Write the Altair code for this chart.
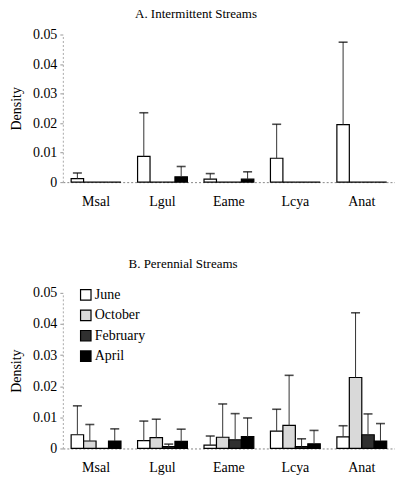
import altair as alt
import pandas as pd

categories = ["Msal", "Lgul", "Eame", "Lcya", "Anat"]
months = ["June", "October", "February", "April"]
month_colors = ["#ffffff", "#d9d9d9", "#303030", "#000000"]

# Panel A: Intermittent streams (mean, mean + error)
a_june = [0.0012, 0.0087, 0.0010, 0.0081, 0.0195]
a_june_err = [0.0031, 0.0235, 0.0029, 0.0196, 0.0474]
a_oct = [0.0, 0.0, 0.0, 0.0, 0.0]
a_oct_err = [None, None, None, None, None]
a_feb = [0.0, 0.0, 0.0, 0.0, 0.0]
a_feb_err = [None, None, None, None, None]
a_apr = [0.0, 0.0018, 0.0010, 0.0, 0.0]
a_apr_err = [None, 0.0053, 0.0035, None, None]

# Panel B: Perennial streams
b_june = [0.0044, 0.0025, 0.0011, 0.0056, 0.0037]
b_june_err = [0.0137, 0.0088, 0.0040, 0.0126, 0.0073]
b_oct = [0.0024, 0.0035, 0.0036, 0.0074, 0.0228]
b_oct_err = [0.0077, 0.0094, 0.0143, 0.0235, 0.0436]
b_feb = [0.0, 0.0006, 0.0028, 0.0006, 0.0044]
b_feb_err = [None, 0.0014, 0.0112, 0.0031, 0.0111]
b_apr = [0.0024, 0.0023, 0.0038, 0.0015, 0.0024]
b_apr_err = [0.0063, 0.0062, 0.0098, 0.0058, 0.0080]
y_ticks = [0, 0.01, 0.02, 0.03, 0.04, 0.05]

FONT = "Liberation Serif"


def make_df(series, errs):
    rows = []
    for m, vals, ers in zip(months, series, errs):
        for c, v, e in zip(categories, vals, ers):
            rows.append({"cat": c, "month": m, "val": v, "err": e})
    return pd.DataFrame(rows)


dfA = make_df([a_june, a_oct, a_feb, a_apr], [a_june_err, a_oct_err, a_feb_err, a_apr_err])
dfB = make_df([b_june, b_oct, b_feb, b_apr], [b_june_err, b_oct_err, b_feb_err, b_apr_err])

xscale = alt.Scale(domain=categories, paddingInner=0.25, paddingOuter=0.125)
yscale = alt.Scale(domain=[0, 0.05], nice=False)
xoff = alt.XOffset("month:N", sort=months, scale=alt.Scale(domain=months))
xaxis = alt.Axis(title=None, ticks=False, labelAngle=0, labelPadding=12,
                 labelFont=FONT, labelFontSize=14, labelColor="black",
                 domainColor="#888", domainDash=[2, 2], domainWidth=1)
yaxis = alt.Axis(title="Density", values=y_ticks,
                 format="~g", grid=False, tickSize=3, tickColor="#999",
                 labelOverlap=False, labelFlush=False,
                 domainColor="#aaa", domainDash=[2, 2], domainWidth=1,
                 labelFont=FONT, labelFontSize=14, labelColor="black",
                 labelPadding=3, titleFont=FONT, titleFontSize=14,
                 titleFontWeight="normal", titleColor="black", titlePadding=9)


def panel(df, title, dx, offset, height, show_legend):
    x = alt.X("cat:N", sort=categories, scale=xscale, axis=xaxis)
    if show_legend:
        leg = alt.Legend(title=None, orient="none", legendX=16, legendY=-5,
                         symbolType="square", symbolSize=110, symbolStrokeColor="black",
                         symbolStrokeWidth=1.2, labelFont=FONT, labelFontSize=14,
                         labelColor="black", rowPadding=4.5, labelOffset=2)
    else:
        leg = None
    color = alt.Color("month:N", sort=months,
                      scale=alt.Scale(domain=months, range=month_colors), legend=leg)
    bars = alt.Chart(df).mark_bar(stroke="black", strokeWidth=1.2).encode(
        x=x, xOffset=xoff,
        y=alt.Y("val:Q", scale=yscale, axis=yaxis), color=color)
    base_err = alt.Chart(df).transform_filter("datum.err != null")
    rules = base_err.mark_rule(color="#333", strokeWidth=1).encode(
        x=x, xOffset=xoff,
        y=alt.Y("val:Q", scale=yscale, axis=yaxis), y2="err:Q")
    caps = base_err.mark_tick(color="black", thickness=1.6, size=9, orient="horizontal").encode(
        x=x, xOffset=xoff,
        y=alt.Y("err:Q", scale=yscale, axis=yaxis))
    return alt.layer(bars, rules, caps).properties(
        width=333, height=height,
        title=alt.TitleParams(title, font=FONT, fontSize=13, fontWeight="normal",
                              color="black", dx=dx, offset=offset))


A = panel(dfA, "A. Intermittent Streams", -33, 7, 148, False)
B = panel(dfB, "B. Perennial Streams", -46, 15, 156, True)

chart = alt.vconcat(A, B, spacing=50).resolve_scale(color="independent").resolve_legend(
    color="independent").properties(
    padding={"left": 9, "top": 7, "right": 0, "bottom": 0}, background="white"
).configure_view(stroke=None)

chart.save("out.html", embed_options={"renderer": "svg", "actions": False})
